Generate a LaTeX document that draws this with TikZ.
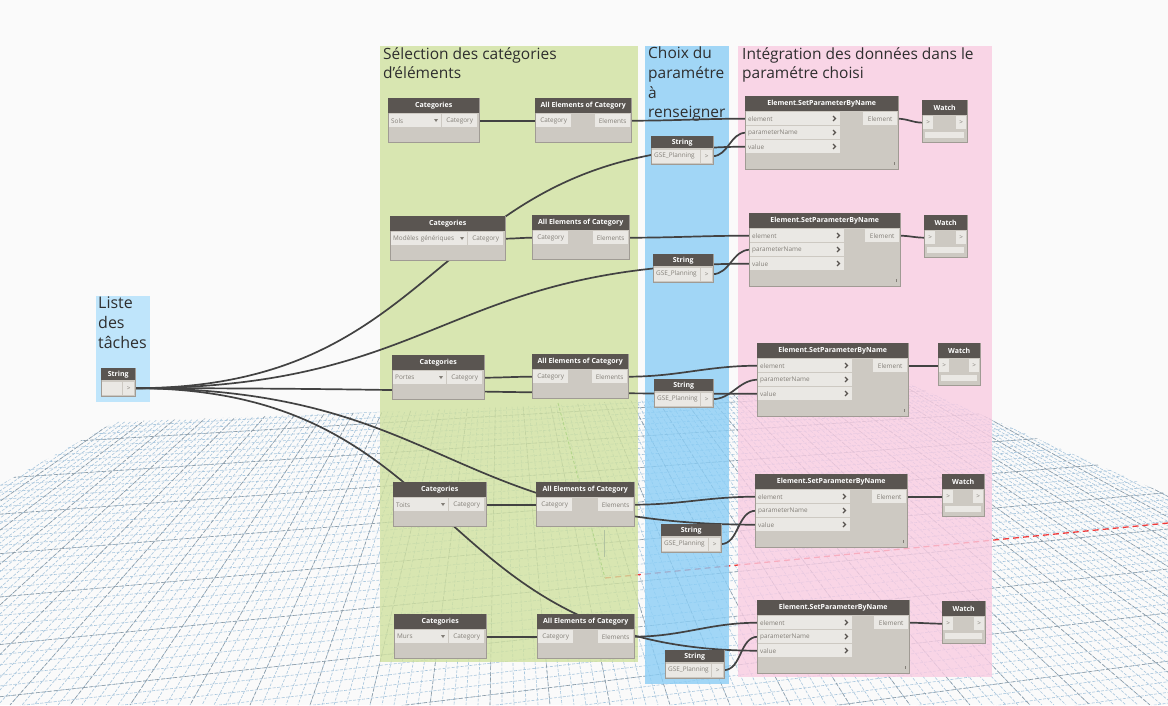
\documentclass[tikz,border=0pt]{standalone}
\usepackage{fontspec}
\setmainfont{Open Sans}
\usepackage{tikz}

\definecolor{bgwhite}{HTML}{FAFAFA}
\definecolor{headgray}{HTML}{5A5551}
\definecolor{bodyfill}{HTML}{CDC9C2}
\definecolor{nodeedge}{HTML}{A09B94}
\definecolor{portfill}{HTML}{EAE8E4}
\definecolor{porttext}{HTML}{837F78}
\definecolor{wirec}{HTML}{424242}
\definecolor{gridc}{HTML}{A8C6DD}
\definecolor{griddark}{HTML}{8E9BA5}
\definecolor{greenzone}{HTML}{D0E19F}
\definecolor{bluezone}{HTML}{8BCEF6}
\definecolor{pinkzone}{HTML}{F9CCE2}
\definecolor{listezone}{HTML}{BFE5FB}
\definecolor{titlec}{HTML}{2E2E2E}
\definecolor{axisx}{HTML}{F03A3A}
\definecolor{axisy}{HTML}{3FA83F}
\definecolor{axisz}{HTML}{3548A8}

\newcommand{\hdfont}{\fontsize{7}{8}\selectfont\bfseries}
\newcommand{\ptfont}{\fontsize{6.4}{7}\selectfont}
\newcommand{\ttlfont}{\fontsize{15.5}{19.6}\selectfont}

\pgfdeclarelayer{back}
\pgfdeclarelayer{wires}
\pgfsetlayers{back,wires,main}

\tikzset{
  zone/.style={fill opacity=0.8},
  bodybox/.style={anchor=north west, fill=bodyfill, draw=nodeedge, line width=0.6pt, inner sep=0pt},
  headbox/.style={anchor=north west, fill=headgray, text=white, font=\hdfont, minimum height=15pt, inner sep=0pt},
  portbox/.style={anchor=north west, fill=portfill, text=porttext, font=\ptfont, minimum height=13pt, inner xsep=2pt, inner ysep=0pt, align=left},
  chevron/.style={draw=headgray, line width=1.1pt},
  wire/.style={draw=wirec, line width=1.7pt, out=0, in=180},
  longwire/.style={wire, looseness=1.25},
  gridline/.style={draw=gridc, line width=0.6pt, dash pattern=on 3pt off 1.5pt},
  gridmajor/.style={draw=griddark, line width=0.6pt, dash pattern=on 4pt off 2pt},
  ttl/.style={anchor=north west, align=left, font=\ttlfont, text=titlec, inner sep=0pt},
}

% name, x, y, width, choice
\newcommand{\catnode}[5]{%
  \pgfmathsetmacro{\ddt}{#4-43}
  \node[bodybox, minimum width=#4pt, minimum height=44pt] (#1) at (#2,#3) {};
  \node[headbox, minimum width=#4pt] (#1-h) at (#2,#3) {Categories};
  \node[portbox, text width=\ddt pt] (#1-dd) at ({#2+1},{#3+16}) {#5};
  \fill[porttext] ({#2+#4-45},{#3+21}) -- ++(4,0) -- ++(-2,3) -- cycle;
  \node[portbox, text width=31pt, align=center] (#1-out) at ({#2+#4-37},{#3+16}) {Category};
}
% name, x, y, width
\newcommand{\elemnode}[4]{%
  \node[bodybox, minimum width=#4pt, minimum height=44pt] (#1) at (#2,#3) {};
  \node[headbox, minimum width=#4pt] (#1-h) at (#2,#3) {All Elements of Category};
  \node[portbox, text width=31pt, align=center] (#1-in) at ({#2+1},{#3+16}) {Category};
  \node[portbox, text width=31pt, align=center] (#1-out) at ({#2+#4-36},{#3+16}) {Elements};
}
% name, x, y, width, text
\newcommand{\strnode}[5]{%
  \pgfmathsetmacro{\stw}{#4-18}
  \node[bodybox, minimum width=#4pt, minimum height=28pt] (#1) at (#2,#3) {};
  \node[headbox, minimum width=#4pt, minimum height=12pt] (#1-h) at (#2,#3) {String};
  \node[portbox, text width=\stw pt] (#1-val) at ({#2+1},{#3+13.5}) {#5};
  \node[portbox, text width=7pt, align=center] (#1-out) at ({#2+#4-12},{#3+13.5}) {>};
}
% name, x, y, width
\newcommand{\setnode}[4]{%
  \node[bodybox, minimum width=#4pt, minimum height=73pt] (#1) at (#2,#3) {};
  \node[headbox, minimum width=#4pt] (#1-h) at (#2,#3) {Element.SetParameterByName};
  \node[portbox, text width=90pt] (#1-el) at ({#2+1},{#3+16}) {element};
  \node[portbox, text width=90pt] (#1-pn) at ({#2+1},{#3+30}) {parameterName};
  \node[portbox, text width=90pt] (#1-va) at ({#2+1},{#3+44}) {value};
  \foreach \rr in {0,14,28}
    \draw[chevron] ({#2+88},{#3+20+\rr}) -- ++(2.5,2.5) -- ++(-2.5,2.5);
  \node[portbox, text width=30pt, align=center] (#1-out) at ({#2+#4-35},{#3+16}) {Element};
  \draw[porttext, line width=0.5pt] ({#2+#4-4},{#3+66}) -- ++(0,3);
}
% name, x, y, width
\newcommand{\watchnode}[4]{%
  \pgfmathsetmacro{\wbw}{#4-6}
  \node[bodybox, minimum width=#4pt, minimum height=42pt] (#1) at (#2,#3) {};
  \node[headbox, minimum width=#4pt] (#1-h) at (#2,#3) {Watch};
  \node[portbox, text width=6pt, align=center] (#1-in) at ({#2+1},{#3+16}) {>};
  \node[portbox, text width=6pt, align=center] (#1-out) at ({#2+#4-11},{#3+16}) {>};
  \node[portbox, minimum width=\wbw pt, minimum height=6pt, inner sep=0pt] (#1-bar) at ({#2+3},{#3+32}) {};
}

\begin{document}
\begin{tikzpicture}[x=1pt, y=-1pt]
  \useasboundingbox (0,0) rectangle (1168,705);

  \begin{pgfonlayer}{back}
    \fill[bgwhite] (0,0) rectangle (1168,705);
    % floor grid
    \begin{scope}
      \clip (0,485) -- (115,422) -- (560,405) -- (905,382) -- (1168,495) -- (1168,705) -- (0,705) -- cycle;
      \foreach \i in {0,...,161} {
        \pgfmathsetmacro{\xb}{-350+12*\i}
        \draw[gridline] (500,150) -- (\xb,705);
      }
      \foreach \j in {-4,...,46} {
        \pgfmathsetmacro{\yj}{410+295*(exp(0.01864*\j)-1)}
        \pgfmathsetmacro{\yl}{\yj+0.1364*(\yj-150)}
        \pgfmathsetmacro{\yr}{\yj-0.1291*(\yj-150)}
        \draw[gridline] (0,\yl) -- (1168,\yr);
      }
      \foreach \i in {0,5,...,160} {
        \pgfmathsetmacro{\xb}{-350+12*\i}
        \draw[gridmajor] (500,150) -- (\xb,705);
      }
      \foreach \j in {0,5,...,45} {
        \pgfmathsetmacro{\yj}{410+295*(exp(0.01864*\j)-1)}
        \pgfmathsetmacro{\yl}{\yj+0.1364*(\yj-150)}
        \pgfmathsetmacro{\yr}{\yj-0.1291*(\yj-150)}
        \draw[gridmajor] (0,\yl) -- (1168,\yr);
      }
    \end{scope}
    \draw[axisy, line width=0.9pt, dash pattern=on 3pt off 2pt] (558,403) -- (605,578);
    \draw[axisz, line width=1pt] (604,530) -- (604,557);
    \draw[axisx, line width=1.3pt, dash pattern=on 6pt off 4pt] (605,578) -- (1168,523);

    \fill[greenzone, zone] (380,46) rectangle (638,662);
    \fill[bluezone, zone] (645,46) rectangle (729,684);
    \fill[pinkzone, zone] (738,46) rectangle (992,677);
    \fill[listezone] (96,296) rectangle (150,402);

    \node[ttl] (t-sel) at (383,47) {Sélection des catégories\\d'éléments};
    \node[ttl] (t-choix) at (648,47) {Choix du\\paramétre\\à\\renseigner};
    \node[ttl] (t-integ) at (742,47) {Intégration des données dans le\\paramétre choisi};
    \node[ttl, font=\fontsize{16}{19.6}\selectfont] (t-liste) at (98,297) {Liste\\des\\tâches};
  \end{pgfonlayer}

  \strnode{liste}{101}{368}{34}{}

  \catnode{cat1}{388}{98}{91}{Sols}
  \elemnode{all1}{535}{98}{96}
  \strnode{str1}{651}{136}{62}{GSE\_Planning}
  \setnode{set1}{745}{96}{153}
  \watchnode{wat1}{922}{100}{45}

  \catnode{cat2}{390}{216}{115}{Modèles génériques}
  \elemnode{all2}{532}{215}{97}
  \strnode{str2}{653}{254}{60}{GSE\_Planning}
  \setnode{set2}{749}{213}{151}
  \watchnode{wat2}{924}{215}{43}

  \catnode{cat3}{392}{355}{92}{Portes}
  \elemnode{all3}{532}{354}{96}
  \strnode{str3}{654}{379}{59}{GSE\_Planning}
  \setnode{set3}{757}{343}{151}
  \watchnode{wat3}{938}{343}{42}

  \catnode{cat4}{393}{482}{93}{Toits}
  \elemnode{all4}{536}{482}{98}
  \strnode{str4}{661}{524}{60}{GSE\_Planning}
  \setnode{set4}{755}{474}{152}
  \watchnode{wat4}{942}{474}{42}

  \catnode{cat5}{394}{614}{92}{Murs}
  \elemnode{all5}{537}{614}{97}
  \strnode{str5}{665}{650}{59}{GSE\_Planning}
  \setnode{set5}{757}{600}{152}
  \watchnode{wat5}{942}{601}{43}

  \begin{pgfonlayer}{wires}
    \draw[wire] (cat1-out.east) to (all1-in.west);
    \draw[wire] (all1-out.east) to (set1-el.west);
    \draw[wire] (str1-out.east) to (set1-pn.west);
    \draw[longwire] (liste-out.east) to (set1-va.west);
    \draw[wire] (set1-out.east) to (wat1-in.west);

    \draw[wire] (cat2-out.east) to (all2-in.west);
    \draw[wire] (all2-out.east) to (set2-el.west);
    \draw[wire] (str2-out.east) to (set2-pn.west);
    \draw[longwire] (liste-out.east) to (set2-va.west);
    \draw[wire] (set2-out.east) to (wat2-in.west);

    \draw[wire] (cat3-out.east) to (all3-in.west);
    \draw[wire] (all3-out.east) to (set3-el.west);
    \draw[wire] (str3-out.east) to (set3-pn.west);
    \draw[longwire] (liste-out.east) to (set3-va.west);
    \draw[wire] (set3-out.east) to (wat3-in.west);

    \draw[wire] (cat4-out.east) to (all4-in.west);
    \draw[wire] (all4-out.east) to (set4-el.west);
    \draw[wire] (str4-out.east) to (set4-pn.west);
    \draw[longwire] (liste-out.east) to (set4-va.west);
    \draw[wire] (set4-out.east) to (wat4-in.west);

    \draw[wire] (cat5-out.east) to (all5-in.west);
    \draw[wire] (all5-out.east) to (set5-el.west);
    \draw[wire] (str5-out.east) to (set5-pn.west);
    \draw[longwire] (liste-out.east) to (set5-va.west);
    \draw[wire] (set5-out.east) to (wat5-in.west);
  \end{pgfonlayer}
\end{tikzpicture}
\end{document}
